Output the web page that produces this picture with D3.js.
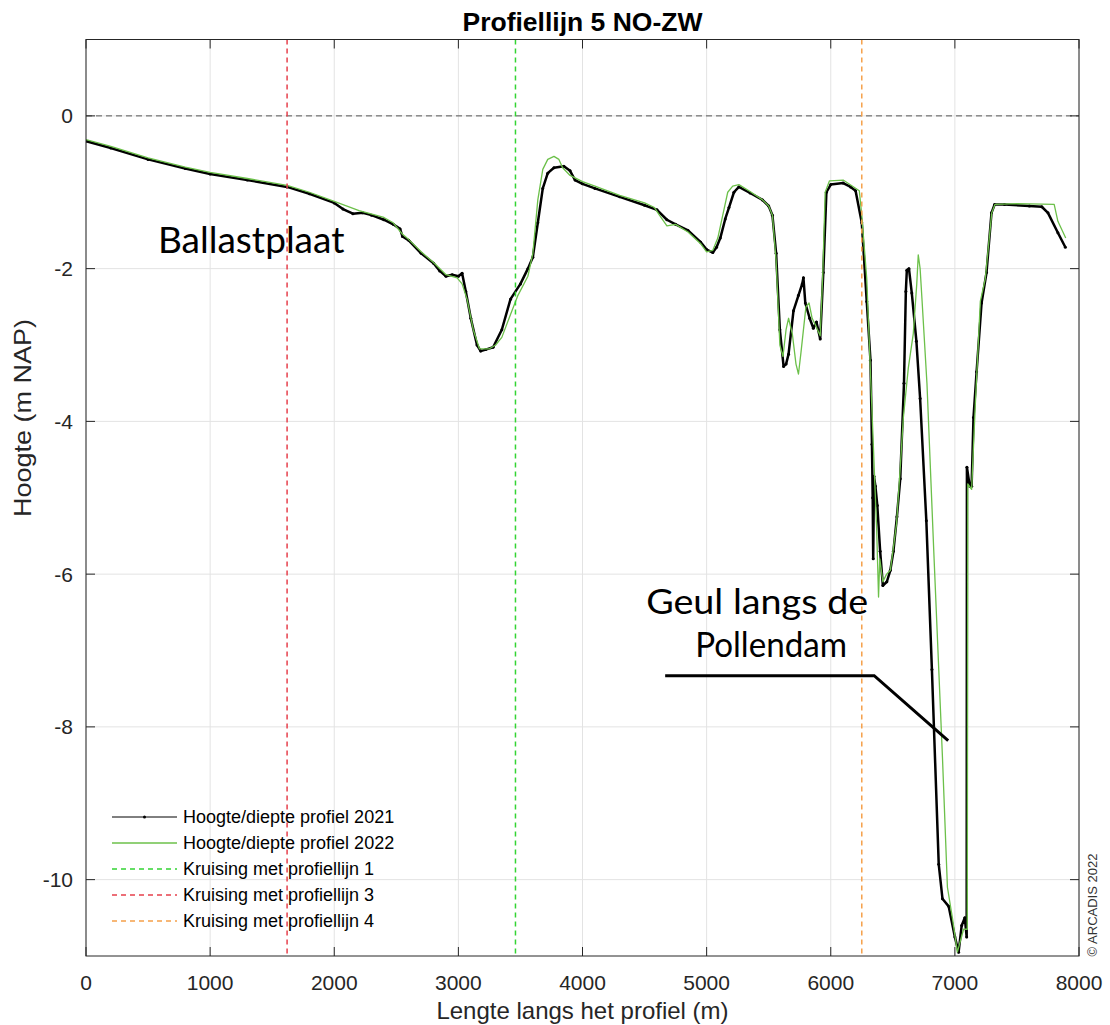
<!DOCTYPE html>
<html>
<head>
<meta charset="utf-8">
<script src="https://cdn.jsdelivr.net/npm/d3@7/dist/d3.min.js"></script>
<style>
    body { margin: 0; background: #fff; }
    svg text { font-family: "Liberation Sans", Arial, sans-serif; fill: #262626; }
</style>
</head>
<body>
<div id="chart"></div>
<script>
// profile 2021 (black, with point markers)
const dist2021 = [0, 200, 500, 800, 1000, 1300, 1620, 1800, 2000, 2070, 2150, 2230, 2300, 2400, 2475, 2530, 2550, 2600, 2700, 2800, 2850, 2900, 2950, 3000, 3030, 3060, 3100, 3150, 3180, 3220, 3280, 3350, 3420, 3500, 3560, 3600, 3640, 3680, 3720, 3770, 3850, 3900, 3940, 4000, 4100, 4300, 4500, 4600, 4680, 4750, 4850, 4950, 5000, 5050, 5080, 5110, 5150, 5180, 5220, 5260, 5350, 5450, 5500, 5530, 5560, 5590, 5620, 5640, 5660, 5700, 5740, 5770, 5780, 5795, 5830, 5860, 5885, 5915, 5940, 5965, 6000, 6100, 6160, 6200, 6250, 6290, 6320, 6332, 6338, 6342, 6348, 6360, 6375, 6398, 6420, 6452, 6480, 6505, 6533, 6560, 6590, 6605, 6613, 6630, 6653, 6690, 6720, 6770, 6815, 6870, 6900, 6950, 7000, 7030, 7055, 7080, 7095, 7097, 7120, 7135, 7150, 7175, 7215, 7255, 7295, 7320, 7400, 7600, 7700, 7750, 7830, 7890];
const height2021 = [-0.33, -0.42, -0.57, -0.69, -0.76, -0.84, -0.93, -1.02, -1.14, -1.22, -1.28, -1.27, -1.30, -1.36, -1.42, -1.48, -1.58, -1.63, -1.80, -1.93, -2.03, -2.10, -2.08, -2.10, -2.06, -2.30, -2.65, -3.00, -3.08, -3.06, -3.03, -2.80, -2.40, -2.20, -2.00, -1.85, -1.40, -0.95, -0.75, -0.68, -0.66, -0.72, -0.84, -0.89, -0.95, -1.06, -1.17, -1.23, -1.36, -1.42, -1.50, -1.65, -1.75, -1.79, -1.72, -1.60, -1.35, -1.20, -1.00, -0.93, -1.01, -1.10, -1.18, -1.30, -1.80, -2.80, -3.28, -3.25, -3.12, -2.55, -2.35, -2.20, -2.12, -2.45, -2.65, -2.78, -2.70, -2.92, -2.05, -1.00, -0.90, -0.88, -0.93, -0.98, -1.40, -2.43, -3.20, -4.30, -5.00, -5.80, -4.72, -4.85, -5.10, -5.70, -6.15, -6.10, -5.95, -5.70, -5.25, -4.75, -3.50, -2.30, -2.02, -2.00, -2.32, -2.95, -3.70, -5.30, -7.25, -9.80, -10.25, -10.35, -10.75, -10.95, -10.60, -10.50, -10.75, -4.60, -4.85, -4.85, -3.95, -3.35, -2.45, -2.05, -1.27, -1.16, -1.16, -1.18, -1.19, -1.27, -1.53, -1.72];

// profile 2022 (green)
const dist2022 = [0, 200, 500, 800, 1000, 1300, 1620, 1800, 2000, 2200, 2400, 2475, 2550, 2600, 2700, 2800, 2900, 2990, 3030, 3070, 3120, 3170, 3250, 3300, 3350, 3420, 3480, 3560, 3600, 3640, 3680, 3720, 3770, 3810, 3840, 3900, 4000, 4100, 4300, 4500, 4580, 4620, 4680, 4750, 4850, 4950, 5000, 5050, 5090, 5130, 5170, 5210, 5260, 5350, 5450, 5500, 5530, 5560, 5590, 5615, 5640, 5660, 5690, 5720, 5740, 5760, 5800, 5825, 5850, 5880, 5915, 5935, 5955, 5990, 6100, 6230, 6250, 6290, 6330, 6370, 6385, 6395, 6420, 6450, 6480, 6530, 6560, 6585, 6625, 6665, 6693, 6705, 6720, 6735, 6775, 6830, 6900, 6940, 6980, 7020, 7045, 7070, 7100, 7104, 7135, 7165, 7205, 7245, 7297, 7323, 7500, 7800, 7830, 7893];
const height2022 = [-0.31, -0.40, -0.55, -0.67, -0.74, -0.82, -0.91, -1.00, -1.12, -1.24, -1.33, -1.40, -1.55, -1.62, -1.78, -1.92, -2.08, -2.12, -2.20, -2.40, -2.80, -3.05, -3.05, -3.00, -2.90, -2.60, -2.35, -2.10, -1.80, -1.10, -0.70, -0.57, -0.53, -0.57, -0.68, -0.78, -0.86, -0.92, -1.04, -1.14, -1.20, -1.30, -1.44, -1.42, -1.52, -1.67, -1.78, -1.76, -1.60, -1.30, -1.00, -0.92, -0.90, -0.99, -1.10, -1.18, -1.30, -1.90, -3.00, -3.15, -2.80, -2.65, -2.85, -3.25, -3.38, -3.10, -2.50, -2.45, -2.65, -2.75, -2.88, -2.10, -1.00, -0.85, -0.84, -0.98, -1.30, -2.13, -3.77, -5.42, -6.30, -5.80, -6.10, -6.00, -5.95, -5.34, -4.60, -3.95, -3.30, -2.85, -2.20, -1.82, -2.00, -2.40, -3.50, -5.70, -8.40, -10.10, -10.50, -10.95, -10.80, -10.65, -10.65, -4.82, -4.89, -3.77, -2.43, -2.13, -1.27, -1.16, -1.15, -1.16, -1.38, -1.60];

// crossings with other profile lines
const crossingNames = ['Kruising met profiellijn 1', 'Kruising met profiellijn 3', 'Kruising met profiellijn 4'];
const crossingDist = [3460, 1620, 6250];

const xTicks = [0, 1000, 2000, 3000, 4000, 5000, 6000, 7000, 8000];
const yTicks = [-10, -8, -6, -4, -2, 0];

const W = 1110, H = 1025;
const margin = { top: 39.5, right: 31, bottom: 69, left: 86 };
const width = W - margin.left - margin.right;
const height = H - margin.top - margin.bottom;

const svg = d3.select('#chart').append('svg')
    .attr('width', W)
    .attr('height', H);

svg.append('rect').attr('width', W).attr('height', H).attr('fill', '#fff');

const g = svg.append('g')
    .attr('transform', `translate(${margin.left},${margin.top})`);

const x = d3.scaleLinear().domain([0, 8000]).range([0, width]);
const y = d3.scaleLinear().domain([-11, 1]).range([height, 0]);

// grid
g.append('g')
    .selectAll('line')
    .data(xTicks)
    .enter().append('line')
    .attr('x1', d => x(d)).attr('x2', d => x(d))
    .attr('y1', 0).attr('y2', height)
    .attr('stroke', '#e3e3e3').attr('stroke-width', 1);

g.append('g')
    .selectAll('line')
    .data(yTicks)
    .enter().append('line')
    .attr('x1', 0).attr('x2', width)
    .attr('y1', d => y(d)).attr('y2', d => y(d))
    .attr('stroke', '#e3e3e3').attr('stroke-width', 1);

// zero level
g.append('line')
    .attr('x1', 0).attr('x2', width)
    .attr('y1', y(0)).attr('y2', y(0))
    .attr('stroke', '#555').attr('stroke-width', 1)
    .attr('stroke-dasharray', '6,4');

svg.append('defs').append('clipPath').attr('id', 'plotClip')
    .append('rect').attr('width', width).attr('height', height);

const plot = g.append('g').attr('clip-path', 'url(#plotClip)');

const line = d3.line()
    .x(d => x(d[0]))
    .y(d => y(d[1]));

const pts2021 = dist2021.map((d, i) => [d, height2021[i]]);
const pts2022 = dist2022.map((d, i) => [d, height2022[i]]);

plot.append('path')
    .datum(pts2021)
    .attr('fill', 'none')
    .attr('stroke', '#000')
    .attr('stroke-width', 2.5)
    .attr('stroke-linejoin', 'round')
    .attr('d', line);

plot.selectAll('.dot')
    .data(pts2021)
    .enter().append('circle')
    .attr('class', 'dot')
    .attr('cx', d => x(d[0]))
    .attr('cy', d => y(d[1]))
    .attr('r', 1.5)
    .attr('fill', '#000');

plot.append('path')
    .datum(pts2022)
    .attr('fill', 'none')
    .attr('stroke', '#6cc04a')
    .attr('stroke-width', 1.3)
    .attr('stroke-linejoin', 'round')
    .attr('d', line);

const crossingColors = ['#33d433', '#e6404c', '#f5a04a'];

plot.selectAll('.crossing')
    .data(crossingDist)
    .enter().append('line')
    .attr('class', 'crossing')
    .attr('x1', d => x(d)).attr('x2', d => x(d))
    .attr('y1', 0).attr('y2', height)
    .attr('stroke', (d, i) => crossingColors[i])
    .attr('stroke-width', 1.5)
    .attr('stroke-dasharray', '5,4');

// axes box with inward ticks
const axisColor = '#262626';
g.append('rect')
    .attr('width', width).attr('height', height)
    .attr('fill', 'none').attr('stroke', axisColor).attr('stroke-width', 1);

const tickLen = 9;
const ticks = g.append('g').attr('stroke', axisColor).attr('stroke-width', 1);
xTicks.forEach(t => {
    ticks.append('line').attr('x1', x(t)).attr('x2', x(t)).attr('y1', height).attr('y2', height - tickLen);
    ticks.append('line').attr('x1', x(t)).attr('x2', x(t)).attr('y1', 0).attr('y2', tickLen);
});
yTicks.forEach(t => {
    ticks.append('line').attr('x1', 0).attr('x2', tickLen).attr('y1', y(t)).attr('y2', y(t));
    ticks.append('line').attr('x1', width).attr('x2', width - tickLen).attr('y1', y(t)).attr('y2', y(t));
});

g.append('g')
    .selectAll('text')
    .data(xTicks)
    .enter().append('text')
    .attr('x', d => x(d))
    .attr('y', height + 34)
    .attr('text-anchor', 'middle')
    .style('font-size', '21px')
    .text(d => d);

g.append('g')
    .selectAll('text')
    .data(yTicks)
    .enter().append('text')
    .attr('x', -13)
    .attr('y', d => y(d))
    .attr('dy', '0.36em')
    .attr('text-anchor', 'end')
    .style('font-size', '21px')
    .text(d => d);

// axis labels and title
svg.append('text')
    .attr('x', margin.left + width / 2)
    .attr('y', 1019)
    .attr('text-anchor', 'middle')
    .style('font-size', '24px')
    .text('Lengte langs het profiel (m)');

svg.append('text')
    .attr('transform', `translate(31,${418}) rotate(-90)`)
    .attr('text-anchor', 'middle')
    .attr('textLength', 198)
    .attr('lengthAdjust', 'spacingAndGlyphs')
    .style('font-size', '24px')
    .text('Hoogte (m NAP)');

svg.append('text')
    .attr('x', margin.left + width / 2)
    .attr('y', 31)
    .attr('text-anchor', 'middle')
    .style('font-size', '26.5px')
    .style('font-weight', 'bold')
    .style('fill', '#000')
    .text('Profiellijn 5 NO-ZW');

// annotations
const annotFont = 'Lato, "Open Sans", sans-serif';
g.append('text')
    .attr('x', x(580)).attr('y', y(-1.79))
    .style('font-family', annotFont)
    .style('font-size', '37px')
    .style('fill', '#000')
    .text('Ballastplaat');

g.append('text')
    .attr('x', x(5407)).attr('y', y(-6.52))
    .attr('text-anchor', 'middle')
    .attr('textLength', 222)
    .attr('lengthAdjust', 'spacingAndGlyphs')
    .style('font-family', annotFont)
    .style('font-size', '35px')
    .style('fill', '#000')
    .text('Geul langs de');

g.append('text')
    .attr('x', x(5520)).attr('y', y(-7.09))
    .attr('text-anchor', 'middle')
    .attr('textLength', 152)
    .attr('lengthAdjust', 'spacingAndGlyphs')
    .style('font-family', annotFont)
    .style('font-size', '35px')
    .style('fill', '#000')
    .text('Pollendam');

const leader = [[4666, -7.33], [6350, -7.33], [6946, -8.18]];
g.append('path')
    .datum(leader)
    .attr('fill', 'none')
    .attr('stroke', '#000')
    .attr('stroke-width', 3)
    .attr('d', line);

// legend
const legendItems = [
    { name: 'Hoogte/diepte profiel 2021', color: '#000', width: 1, dash: null, dot: true },
    { name: 'Hoogte/diepte profiel 2022', color: '#6cc04a', width: 1.3, dash: null, dot: false },
    { name: crossingNames[0], color: crossingColors[0], width: 1.4, dash: '5,4', dot: false },
    { name: crossingNames[1], color: crossingColors[1], width: 1.4, dash: '5,4', dot: false },
    { name: crossingNames[2], color: crossingColors[2], width: 1.4, dash: '5,4', dot: false }
];

const legend = svg.append('g').attr('transform', 'translate(112,817)');
legendItems.forEach((item, i) => {
    const row = legend.append('g').attr('transform', `translate(0,${i * 26})`);
    row.append('line')
        .attr('x1', 0).attr('x2', 65)
        .attr('stroke', item.color)
        .attr('stroke-width', item.width)
        .attr('stroke-dasharray', item.dash);
    if (item.dot) {
        row.append('circle').attr('cx', 32.5).attr('r', 1.5).attr('fill', item.color);
    }
    row.append('text')
        .attr('x', 71)
        .attr('dy', '0.35em')
        .style('font-size', '18px')
        .style('fill', '#000')
        .text(item.name);
});

svg.append('text')
    .attr('transform', 'translate(1097,905) rotate(-90)')
    .attr('text-anchor', 'middle')
    .style('font-size', '13px')
    .style('fill', '#333')
    .text('\u00A9 ARCADIS 2022');
</script>
</body>
</html>
